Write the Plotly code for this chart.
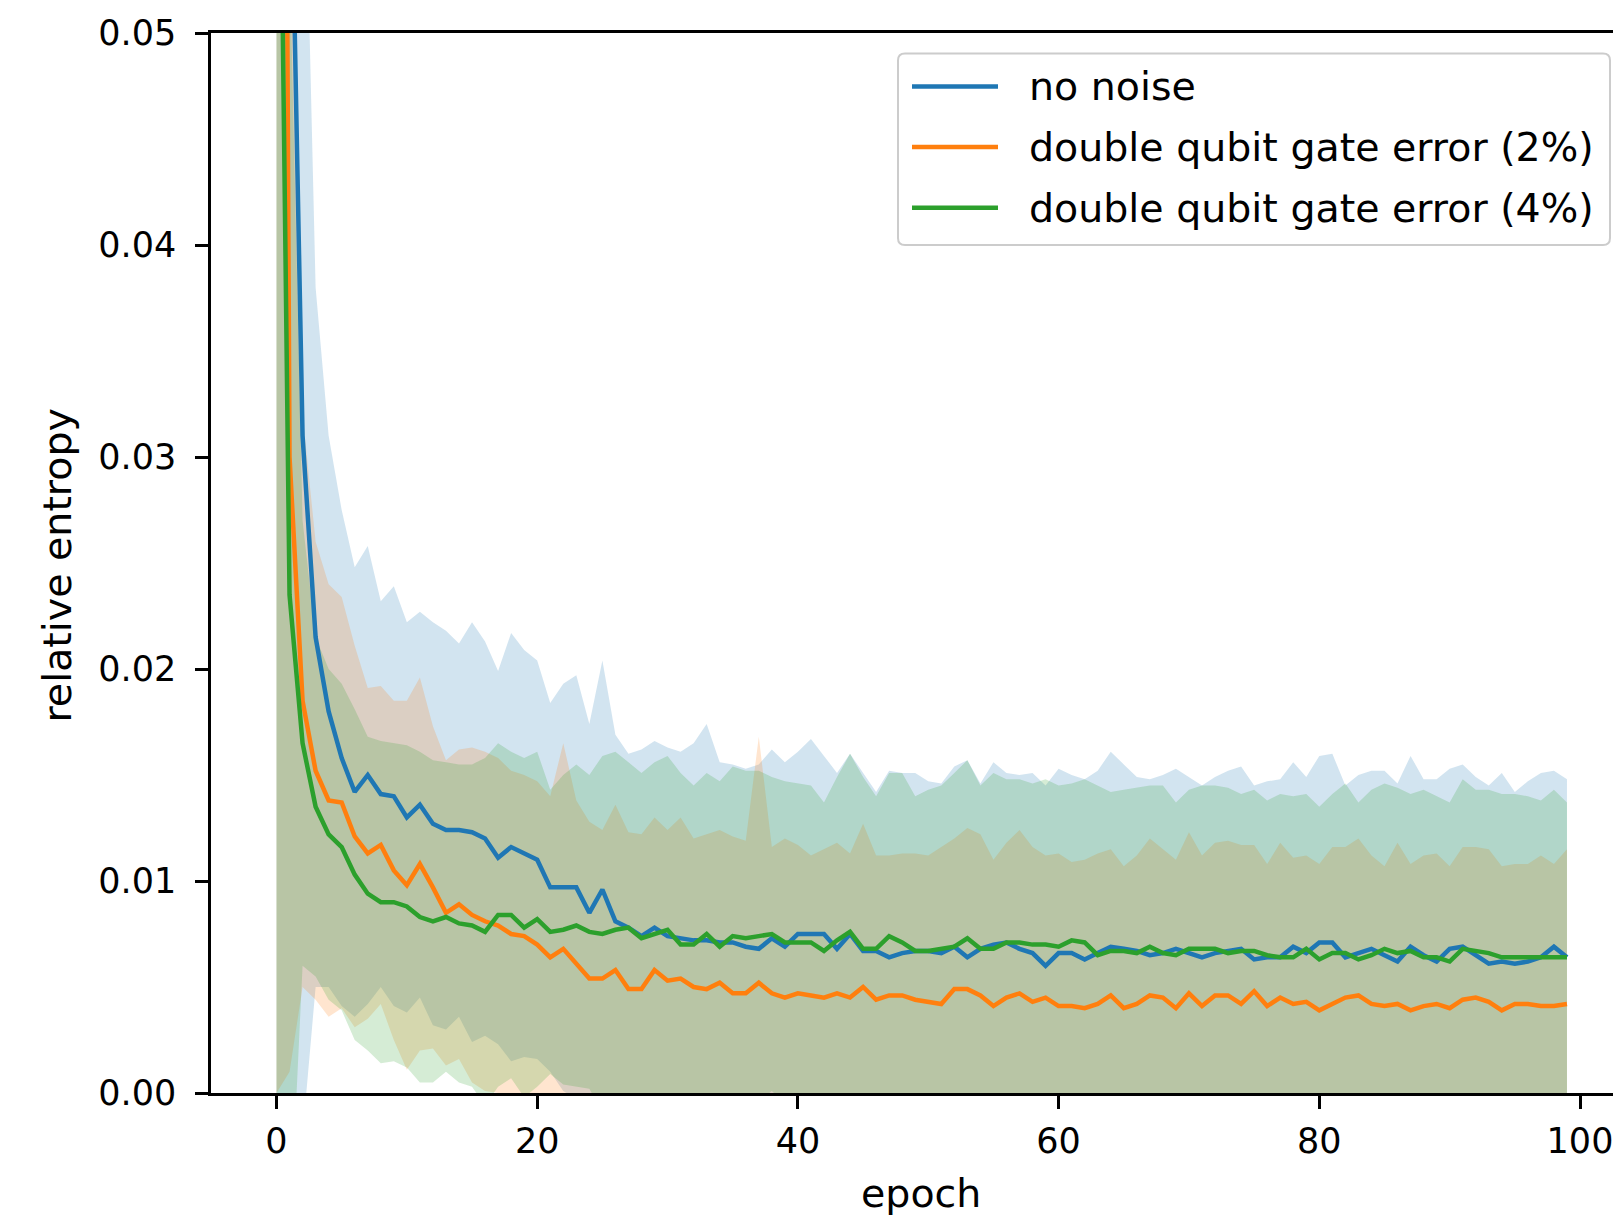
import plotly.graph_objects as go

# ---------------- data ----------------
epochs = list(range(100))

no_noise_mean = [
    0.25, 0.0627, 0.031, 0.0215, 0.018, 0.0158, 0.0142, 0.0150, 0.0141, 0.0140,
    0.0130, 0.0136, 0.0127, 0.0124, 0.0124, 0.0123, 0.0120, 0.0111, 0.0116, 0.0113,
    0.0110, 0.0097, 0.0097, 0.0097, 0.0085, 0.0096, 0.0081, 0.0078, 0.0074, 0.0078,
    0.0074, 0.0073, 0.0072, 0.0072, 0.0071, 0.0071, 0.0069, 0.0068, 0.0073, 0.0069,
    0.0075, 0.0075, 0.0075, 0.0068, 0.0075, 0.0067, 0.0067, 0.0064, 0.0066, 0.0067,
    0.0067, 0.0066, 0.0069, 0.0064, 0.0068, 0.0070, 0.0071, 0.0068, 0.0066, 0.0060,
    0.0066, 0.0066, 0.0063, 0.0066, 0.0069, 0.0068, 0.0067, 0.0065, 0.0066, 0.0068,
    0.0066, 0.0064, 0.0066, 0.0067, 0.0068, 0.0063, 0.0064, 0.0064, 0.0069, 0.0066,
    0.0071, 0.0071, 0.0064, 0.0066, 0.0068, 0.0065, 0.0062, 0.0069, 0.0065, 0.0062,
    0.0068, 0.0069, 0.0065, 0.0061, 0.0062, 0.0061, 0.0062, 0.0064, 0.0069, 0.0064,
]
no_noise_upper = [
    0.55, 0.14, 0.064, 0.038, 0.031, 0.0275, 0.0248, 0.0258, 0.0232, 0.0239,
    0.0222, 0.0227, 0.0222, 0.0218, 0.0212, 0.0222, 0.0213, 0.0199, 0.0217, 0.0209,
    0.0204, 0.0184, 0.0193, 0.0197, 0.0174, 0.0204, 0.0169, 0.0160, 0.0162, 0.0166,
    0.0163, 0.0161, 0.0165, 0.0174, 0.0156, 0.0155, 0.0153, 0.0155, 0.0162, 0.0156,
    0.0161, 0.0167, 0.0159, 0.0151, 0.0160, 0.0151, 0.0142, 0.0152, 0.0151, 0.0151,
    0.0147, 0.0146, 0.0154, 0.0157, 0.0146, 0.0156, 0.0151, 0.0150, 0.0151, 0.0145,
    0.0153, 0.0150, 0.0148, 0.0152, 0.0161, 0.0155, 0.0149, 0.0148, 0.0150, 0.0153,
    0.0149, 0.0145, 0.0149, 0.0152, 0.0154, 0.0145, 0.0147, 0.0148, 0.0156, 0.0149,
    0.0159, 0.0160, 0.0145, 0.0150, 0.0152, 0.0152, 0.0146, 0.0159, 0.0148, 0.0148,
    0.0153, 0.0155, 0.0149, 0.0145, 0.0151, 0.0142, 0.0147, 0.0151, 0.0152, 0.0148,
]

err2_mean = [
    0.15, 0.030, 0.0185, 0.0152, 0.0138, 0.0137, 0.0121, 0.0113, 0.0117, 0.0105,
    0.0098, 0.0108, 0.0097, 0.0085, 0.0089, 0.0084, 0.0081, 0.0079, 0.0075, 0.0074,
    0.0070, 0.0064, 0.0068, 0.0061, 0.0054, 0.0054, 0.0058, 0.0049, 0.0049, 0.0058,
    0.0053, 0.0054, 0.0050, 0.0049, 0.0052, 0.0047, 0.0047, 0.0052, 0.0047, 0.0045,
    0.0047, 0.0046, 0.0045, 0.0047, 0.0045, 0.0050, 0.0044, 0.0046, 0.0046, 0.0044,
    0.0043, 0.0042, 0.0049, 0.0049, 0.0046, 0.0041, 0.0045, 0.0047, 0.0043, 0.0045,
    0.0041, 0.0041, 0.0040, 0.0042, 0.0046, 0.0040, 0.0042, 0.0046, 0.0045, 0.0040,
    0.0047, 0.0041, 0.0046, 0.0046, 0.0042, 0.0048, 0.0041, 0.0045, 0.0042, 0.0043,
    0.0039, 0.0042, 0.0045, 0.0046, 0.0042, 0.0041, 0.0042, 0.0039, 0.0041, 0.0042,
    0.0040, 0.0044, 0.0045, 0.0043, 0.0039, 0.0042, 0.0042, 0.0041, 0.0041, 0.0042,
]
err2_upper = [
    0.30, 0.059, 0.032, 0.026, 0.0240, 0.0234, 0.0211, 0.0191, 0.0192, 0.0185,
    0.0185, 0.0196, 0.0173, 0.0157, 0.0162, 0.0163, 0.0161, 0.0158, 0.0152, 0.0150,
    0.0147, 0.0140, 0.0165, 0.0138, 0.0128, 0.0124, 0.0136, 0.0123, 0.0122, 0.0130,
    0.0124, 0.0130, 0.0120, 0.0122, 0.0124, 0.0121, 0.0119, 0.0168, 0.0116, 0.0120,
    0.0117, 0.0112, 0.0115, 0.0118, 0.0113, 0.0127, 0.0112, 0.0112, 0.0113, 0.0113,
    0.0112, 0.0116, 0.0120, 0.0125, 0.0122, 0.0110, 0.0118, 0.0124, 0.0116, 0.0112,
    0.0113, 0.0109, 0.0110, 0.0113, 0.0115, 0.0107, 0.0112, 0.0120, 0.0115, 0.0110,
    0.0123, 0.0112, 0.0118, 0.0119, 0.0117, 0.0117, 0.0108, 0.0118, 0.0111, 0.0112,
    0.0108, 0.0116, 0.0116, 0.0120, 0.0112, 0.0107, 0.0118, 0.0108, 0.0112, 0.0113,
    0.0107, 0.0116, 0.0116, 0.0115, 0.0107, 0.0108, 0.0108, 0.0112, 0.0108, 0.0115,
]

err4_mean = [
    0.075, 0.0235, 0.0165, 0.0135, 0.0122, 0.0116, 0.0103, 0.0094, 0.0090, 0.0090,
    0.0088, 0.0083, 0.0081, 0.0083, 0.0080, 0.0079, 0.0076, 0.0084, 0.0084, 0.0078,
    0.0082, 0.0076, 0.0077, 0.0079, 0.0076, 0.0075, 0.0077, 0.0078, 0.0073, 0.0075,
    0.0077, 0.0070, 0.0070, 0.0075, 0.0069, 0.0074, 0.0073, 0.0074, 0.0075, 0.0071,
    0.0071, 0.0071, 0.0067, 0.0072, 0.0076, 0.0068, 0.0068, 0.0074, 0.0071, 0.0067,
    0.0067, 0.0068, 0.0069, 0.0073, 0.0068, 0.0068, 0.0071, 0.0071, 0.0070, 0.0070,
    0.0069, 0.0072, 0.0071, 0.0065, 0.0067, 0.0067, 0.0066, 0.0069, 0.0066, 0.0065,
    0.0068, 0.0068, 0.0068, 0.0066, 0.0067, 0.0067, 0.0065, 0.0064, 0.0064, 0.0068,
    0.0063, 0.0066, 0.0066, 0.0063, 0.0065, 0.0068, 0.0066, 0.0067, 0.0064, 0.0064,
    0.0062, 0.0068, 0.0067, 0.0066, 0.0064, 0.0064, 0.0064, 0.0064, 0.0064, 0.0064,
]
err4_upper = [
    0.15, 0.054, 0.027, 0.0215, 0.0200, 0.0193, 0.0181, 0.0168, 0.0166, 0.0165,
    0.0164, 0.0161, 0.0157, 0.0156, 0.0155, 0.0155, 0.0158, 0.0165, 0.0161, 0.0158,
    0.0161, 0.0143, 0.0150, 0.0155, 0.0150, 0.0159, 0.0161, 0.0156, 0.0151, 0.0156,
    0.0159, 0.0151, 0.0145, 0.0151, 0.0147, 0.0154, 0.0152, 0.0152, 0.0149, 0.0147,
    0.0146, 0.0145, 0.0137, 0.0149, 0.0160, 0.0149, 0.0140, 0.0151, 0.0151, 0.0140,
    0.0143, 0.0145, 0.0151, 0.0157, 0.0145, 0.0151, 0.0148, 0.0148, 0.0146, 0.0148,
    0.0145, 0.0146, 0.0148, 0.0145, 0.0142, 0.0143, 0.0144, 0.0145, 0.0145, 0.0137,
    0.0143, 0.0145, 0.0145, 0.0144, 0.0141, 0.0143, 0.0138, 0.0141, 0.0140, 0.0141,
    0.0135, 0.0141, 0.0146, 0.0137, 0.0143, 0.0146, 0.0144, 0.0141, 0.0143, 0.0140,
    0.0137, 0.0148, 0.0143, 0.0143, 0.0141, 0.0141, 0.0140, 0.0138, 0.0143, 0.0137,
]

series_names = ["no noise", "double qubit gate error (2%)", "double qubit gate error (4%)"]
series_colors = ["31,119,180", "255,127,14", "44,160,44"]
y_ticks = [0.00, 0.01, 0.02, 0.03, 0.04, 0.05]
x_ticks = [0, 20, 40, 60, 80, 100]

# ---------------- geometry (pixels) ----------------
W, H = 1613, 1222
L, R, T, B = 211, 1613, 33, 1093
X0 = -5.025
XSCALE = 13.035
X1 = X0 + (R - L) / XSCALE


def px(xp):
    return (xp - L) / (R - L)


def py(yp):
    return (B - yp) / (B - T)


FONT = "DejaVu Sans"
FS_TICK = 35
FS_TEXT = 39.5

fig = go.Figure()

means = [no_noise_mean, err2_mean, err4_mean]
uppers = [no_noise_upper, err2_upper, err4_upper]

for m, u, c in zip(means, uppers, series_colors):
    lower = [mi - (ui - mi) for mi, ui in zip(m, u)]
    fig.add_trace(go.Scatter(x=epochs, y=lower, mode="lines", line=dict(width=0),
                             showlegend=False, hoverinfo="skip"))
    fig.add_trace(go.Scatter(x=epochs, y=u, mode="lines", line=dict(width=0),
                             fill="tonexty", fillcolor=f"rgba({c},0.2)",
                             showlegend=False, hoverinfo="skip"))

for m, c, n in zip(means, series_colors, series_names):
    fig.add_trace(go.Scatter(x=epochs, y=m, mode="lines", name=n,
                             line=dict(color=f"rgb({c})", width=4.5),
                             showlegend=False))

axis_common = dict(showgrid=False, zeroline=False, showline=True, linecolor="black",
                   linewidth=2.6, ticks="outside", ticklen=13, tickwidth=2.6,
                   tickcolor="black", automargin=False, ticklabeloverflow="allow",
                   tickfont=dict(family=FONT, size=FS_TICK, color="black"))

fig.update_xaxes(range=[X0, X1], tickvals=x_ticks, ticktext=[str(v) for v in x_ticks],
                 mirror=True, ticklabelstandoff=2, **axis_common)
fig.update_yaxes(range=[0, 0.05], tickvals=y_ticks,
                 ticktext=[f"{v:.2f}" for v in y_ticks], ticklabelstandoff=12,
                 **axis_common)

annotations = [
    dict(text="epoch", x=px(921), y=py(1193), xref="paper", yref="paper",
         showarrow=False, xanchor="center", yanchor="middle",
         font=dict(family=FONT, size=FS_TEXT, color="black")),
    dict(text="relative entropy", x=px(56.5), y=py(566), xref="paper", yref="paper",
         showarrow=False, xanchor="center", yanchor="middle", textangle=-90,
         font=dict(family=FONT, size=FS_TEXT, color="black")),
]

# legend drawn by hand (matplotlib-style long handles)
lx0, lx1, ly0, ly1, rad = 898, 1610, 53.5, 245, 7


def P(x, y):
    return f"{px(x):.6f},{py(y):.6f}"


path = (f"M{P(lx0 + rad, ly0)} L{P(lx1 - rad, ly0)} Q{P(lx1, ly0)} {P(lx1, ly0 + rad)} "
        f"L{P(lx1, ly1 - rad)} Q{P(lx1, ly1)} {P(lx1 - rad, ly1)} "
        f"L{P(lx0 + rad, ly1)} Q{P(lx0, ly1)} {P(lx0, ly1 - rad)} "
        f"L{P(lx0, ly0 + rad)} Q{P(lx0, ly0)} {P(lx0 + rad, ly0)} Z")
shapes = [dict(type="path", path=path, xref="paper", yref="paper",
               line=dict(color="#cccccc", width=2), fillcolor="rgba(255,255,255,0.8)",
               layer="above")]

row_y = [86.4, 147.1, 207.8]
for yy, c, n in zip(row_y, series_colors, series_names):
    shapes.append(dict(type="line", xref="paper", yref="paper",
                       x0=px(912), x1=px(998), y0=py(yy), y1=py(yy),
                       line=dict(color=f"rgb({c})", width=4.5), layer="above"))
    annotations.append(dict(text=n, x=px(1027), y=py(yy), xref="paper", yref="paper",
                            showarrow=False, xanchor="left", yanchor="middle",
                            font=dict(family=FONT, size=FS_TEXT, color="black")))

fig.update_layout(width=W, height=H, margin=dict(l=L, r=W - R, t=T, b=H - B, pad=0),
                  plot_bgcolor="white", paper_bgcolor="white",
                  annotations=annotations, shapes=shapes, showlegend=False)

fig.write_html("out.html", config={"displayModeBar": False},
               post_script="document.body.style.margin='0';"
                           "document.body.style.overflow='hidden';")
